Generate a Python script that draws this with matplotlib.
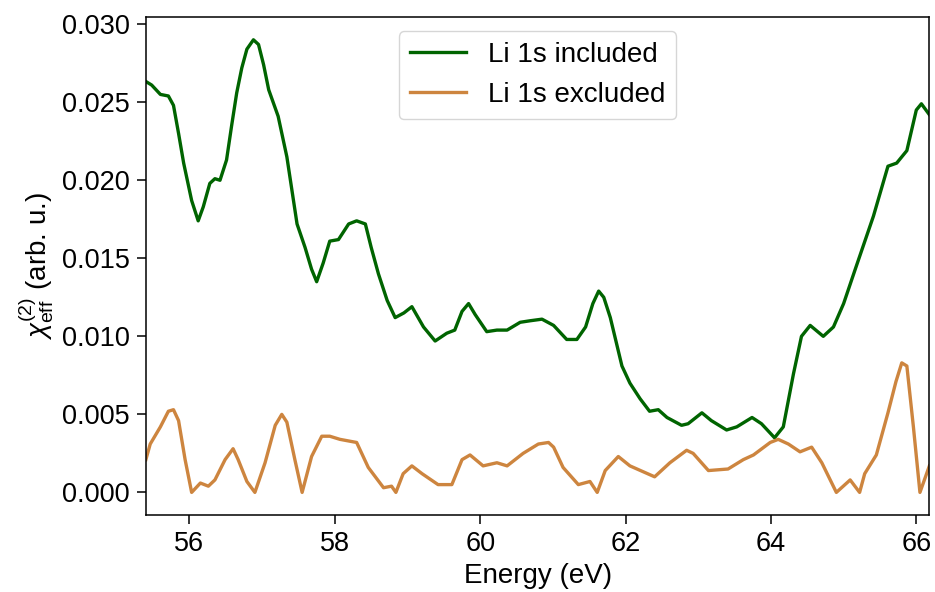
import matplotlib
matplotlib.use("Agg")
import matplotlib.pyplot as plt

plt.rcParams['font.family'] = ['Liberation Sans', 'DejaVu Sans']
plt.rcParams['mathtext.fontset'] = 'custom'
plt.rcParams['mathtext.rm'] = 'Liberation Sans'
plt.rcParams['mathtext.it'] = 'Liberation Sans:italic'

# Li 1s included (green)
energy_incl = [55.41, 55.48, 55.6, 55.71, 55.78, 55.85, 55.92, 56.03, 56.12, 56.19, 56.28,
               56.35, 56.42, 56.51, 56.58, 56.65, 56.72, 56.79, 56.88, 56.95, 57.02, 57.09,
               57.22, 57.34, 57.48, 57.59, 57.68, 57.75, 57.84, 57.93, 58.05, 58.19, 58.30,
               58.42, 58.5, 58.6, 58.72, 58.83, 58.95, 59.06, 59.22, 59.38, 59.54, 59.65,
               59.75, 59.84, 59.93, 60.09, 60.23, 60.37, 60.55, 60.69, 60.85, 61.01, 61.19,
               61.33, 61.45, 61.55, 61.63, 61.7, 61.79, 61.95, 62.06, 62.2, 62.33, 62.45,
               62.57, 62.77, 62.86, 63.05, 63.18, 63.39, 63.53, 63.74, 63.87, 64.05, 64.17,
               64.31, 64.42, 64.54, 64.72, 64.86, 65.0, 65.16, 65.41, 65.61, 65.73, 65.87,
               66.0, 66.07, 66.18]
chi_incl = [0.0263, 0.0261, 0.0255, 0.0254, 0.0248, 0.0230, 0.0211, 0.0187, 0.0174, 0.0183, 0.0198,
            0.0201, 0.0200, 0.0213, 0.0235, 0.0256, 0.0272, 0.0284, 0.0290, 0.0287, 0.0274, 0.0258,
            0.0241, 0.0215, 0.0172, 0.0157, 0.0143, 0.0135, 0.0147, 0.0161, 0.0162, 0.0172, 0.0174,
            0.0172, 0.0157, 0.0140, 0.0123, 0.0112, 0.0115, 0.0119, 0.0106, 0.0097, 0.0102, 0.0104,
            0.0116, 0.0121, 0.0114, 0.0103, 0.0104, 0.0104, 0.0109, 0.0110, 0.0111, 0.0107, 0.0098,
            0.0098, 0.0106, 0.0121, 0.0129, 0.0125, 0.0112, 0.0081, 0.0070, 0.0060, 0.0052, 0.0053,
            0.0048, 0.0043, 0.0044, 0.0051, 0.0046, 0.0040, 0.0042, 0.0048, 0.0044, 0.0035, 0.0042,
            0.0076, 0.0100, 0.0107, 0.0100, 0.0106, 0.0121, 0.0143, 0.0177, 0.0209, 0.0211, 0.0219,
            0.0245, 0.0249, 0.0242]

# Li 1s excluded (orange)
energy_excl = [55.40, 55.46, 55.6, 55.71, 55.78, 55.85, 55.94, 56.03, 56.15, 56.26,
               56.35, 56.49, 56.6, 56.67, 56.79, 56.90, 57.04, 57.18, 57.27, 57.34,
               57.45, 57.55, 57.68, 57.82, 57.93, 58.07, 58.30, 58.46, 58.67, 58.78,
               58.84, 58.94, 59.06, 59.20, 59.42, 59.61, 59.75, 59.86, 60.04, 60.23,
               60.37, 60.59, 60.80, 60.94, 61.01, 61.14, 61.35, 61.51, 61.61, 61.72,
               61.90, 62.06, 62.40, 62.61, 62.84, 62.93, 63.14, 63.41, 63.62, 63.76,
               63.99, 64.10, 64.24, 64.40, 64.56, 64.70, 64.90, 65.09, 65.22, 65.29,
               65.45, 65.61, 65.72, 65.80, 65.87, 65.96, 66.05, 66.18]
chi_excl = [0.0021, 0.0031, 0.0042, 0.0052, 0.0053, 0.0046, 0.0021, 0.0000, 0.0006, 0.0004,
            0.0008, 0.0021, 0.0028, 0.0021, 0.0007, 0.0000, 0.0019, 0.0043, 0.0050, 0.0045,
            0.0021, 0.0000, 0.0023, 0.0036, 0.0036, 0.0034, 0.0032, 0.0016, 0.0003, 0.0004,
            0.0000, 0.0012, 0.0017, 0.0012, 0.0005, 0.0005, 0.0021, 0.0024, 0.0017, 0.0019,
            0.0017, 0.0025, 0.0031, 0.0032, 0.0029, 0.0016, 0.0005, 0.0007, 0.0000, 0.0014,
            0.0023, 0.0017, 0.0010, 0.0019, 0.0027, 0.0025, 0.0014, 0.0015, 0.0021, 0.0024,
            0.0032, 0.0034, 0.0031, 0.0026, 0.0029, 0.0019, 0.0000, 0.0008, 0.0000, 0.0012,
            0.0024, 0.0051, 0.0071, 0.0083, 0.0081, 0.0042, 0.0000, 0.0017]

fig = plt.figure(figsize=(9.35, 5.92), dpi=100)
ax = fig.add_axes([0.156, 0.13, 0.838, 0.841])

ax.plot(energy_incl, chi_incl, color='darkgreen', lw=2.4, label='Li 1s included')
ax.plot(energy_excl, chi_excl, color='peru', lw=2.4, label='Li 1s excluded')

ax.set_xlim(55.4, 66.18)
ax.set_ylim(-0.00145, 0.03045)
ax.set_xlabel('Energy (eV)', fontsize=20)
ax.set_ylabel(r'$\chi^{(2)}_{\mathrm{eff}}$ (arb. u.)', fontsize=20)
ax.tick_params(labelsize=19.5, length=6.5, width=1.1, pad=5)
for s in ax.spines.values():
    s.set_linewidth(1.1)
ax.legend(loc='upper center', fontsize=20)

fig.savefig('out.png', dpi=100)
